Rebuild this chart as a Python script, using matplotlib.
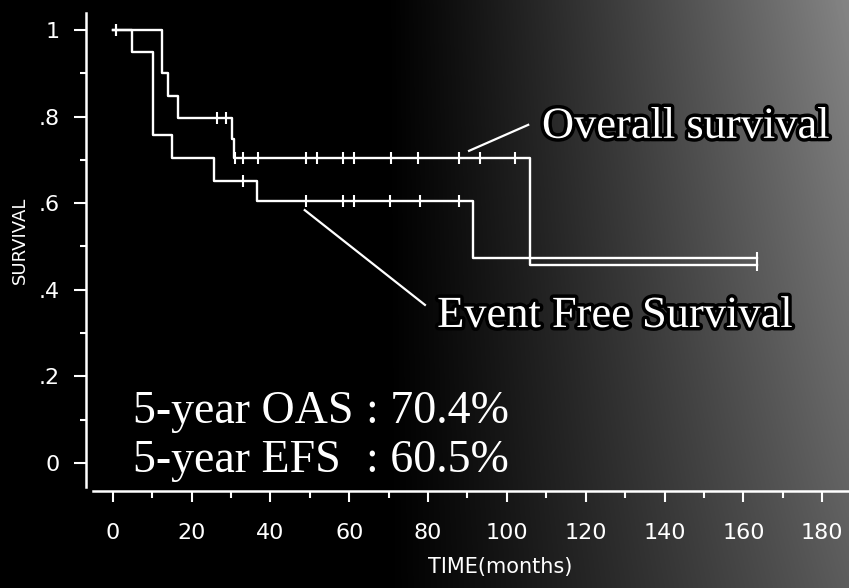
import numpy as np
import matplotlib
matplotlib.use('Agg')
import matplotlib.pyplot as plt
import matplotlib.patheffects as pe

# Kaplan-Meier steps (months, survival)
os_time = [0, 12.4, 14.0, 16.5, 30.3, 30.8, 105.8, 163.4]
os_surv = [1.0, 0.90, 0.848, 0.797, 0.748, 0.704, 0.457, 0.457]

efs_time = [0, 4.8, 10.2, 15.0, 25.6, 36.5, 91.4, 163.4]
efs_surv = [1.0, 0.949, 0.757, 0.705, 0.651, 0.605, 0.473, 0.473]

# censored observations
os_cens_t = [0.8, 26.4, 28.7, 31, 33, 36.8, 49, 51.8, 58.4, 61.2, 70.6, 77.4, 87.8, 93.1, 102, 163.4]
os_cens_s = [1.0, 0.797, 0.797] + [0.704] * 12 + [0.457]
efs_cens_t = [0.8, 33, 49, 58.4, 61.2, 70.3, 78, 87.8, 163.4]
efs_cens_s = [1.0, 0.651] + [0.605] * 6 + [0.473]

xticks = list(range(0, 181, 20))
yticks = [0, 0.2, 0.4, 0.6, 0.8, 1.0]
ytick_labels = ['0', '.2', '.4', '.6', '.8', '1']

fig = plt.figure(figsize=(8.49, 5.88), dpi=100, facecolor='black')

# dark background, lighter grey to the right
bg = fig.add_axes([0, 0, 1, 1], zorder=0)
xx, yy = np.meshgrid(np.linspace(0, 1, 849), np.linspace(0, 1, 588))
s = np.clip((xx - 0.45) / 0.55, 0, 1) ** 1.1
b = 0.52 * s * (1 - 0.3 * yy)
bg.imshow(b, cmap='gray', vmin=0, vmax=1, aspect='auto', extent=[0, 1, 1, 0])
bg.set_axis_off()

ax = fig.add_axes([86 / 849, 97 / 588, 763 / 849, 0.817], zorder=1)
ax.set_facecolor('none')
ax.set_xlim(-6.8, 186.8)
ax.set_ylim(-0.065, 1.045)

lw = 1.7
ax.step(os_time, os_surv, where='post', color='white', lw=lw)
ax.step(efs_time, efs_surv, where='post', color='white', lw=lw)
ax.plot(os_cens_t, os_cens_s, ls='none', marker='|', ms=8, mew=1.5, color='white')
ax.plot(efs_cens_t, efs_cens_s, ls='none', marker='|', ms=8, mew=1.5, color='white')

# spines
for side in ['top', 'right']:
    ax.spines[side].set_visible(False)
ax.spines['left'].set_color('white')
ax.spines['bottom'].set_color('white')
ax.spines['left'].set_linewidth(1.8)
ax.spines['bottom'].set_linewidth(1.8)
ax.spines['left'].set_bounds(-0.055, 1.04)
ax.spines['bottom'].set_bounds(-5.1, 186.8)

ax.set_xticks(xticks)
ax.set_xticks(range(10, 181, 20), minor=True)
ax.set_yticks(yticks)
ax.set_yticklabels(ytick_labels)
ax.set_yticks([0.1, 0.3, 0.5, 0.7, 0.9], minor=True)
ax.tick_params(axis='x', which='major', length=8, width=1.5, colors='white', pad=15, labelsize=16)
ax.tick_params(axis='x', which='minor', length=5, width=1.5, colors='white')
ax.tick_params(axis='y', which='major', length=9, width=1.5, colors='white', pad=10, labelsize=16)
ax.tick_params(axis='y', which='minor', length=4, width=1.5, colors='white')

fig.text(500 / 849, 1 - 567 / 588, 'TIME(months)', color='white', fontsize=15,
         ha='center', va='center')
fig.text(20 / 849, 1 - 240 / 588, 'SURVIVAL', color='white', fontsize=13,
         ha='center', va='center', rotation=90)

halo = [pe.Stroke(linewidth=5, foreground='black'), pe.Normal()]
serif = 'Liberation Serif'
ax.text(108.9, 0.751, 'Overall survival', color='white', fontsize=32, family=serif,
        va='baseline', path_effects=halo)
ax.text(82.3, 0.314, 'Event Free Survival', color='white', fontsize=32, family=serif,
        va='baseline', path_effects=halo)
ax.text(5.1, 0.092, '5-year OAS', color='white', fontsize=33, family=serif, va='baseline')
ax.text(64.2, 0.092, ': 70.4%', color='white', fontsize=33, family=serif, va='baseline')
ax.text(5.1, -0.021, '5-year EFS', color='white', fontsize=33, family=serif, va='baseline')
ax.text(64.2, -0.021, ': 60.5%', color='white', fontsize=33, family=serif, va='baseline')

# leader lines
ax.plot([90.4, 105.4], [0.721, 0.781], color='white', lw=1.6)
ax.plot([48.7, 79.2], [0.584, 0.365], color='white', lw=1.6)

fig.savefig('out.png', dpi=100, facecolor='black')
